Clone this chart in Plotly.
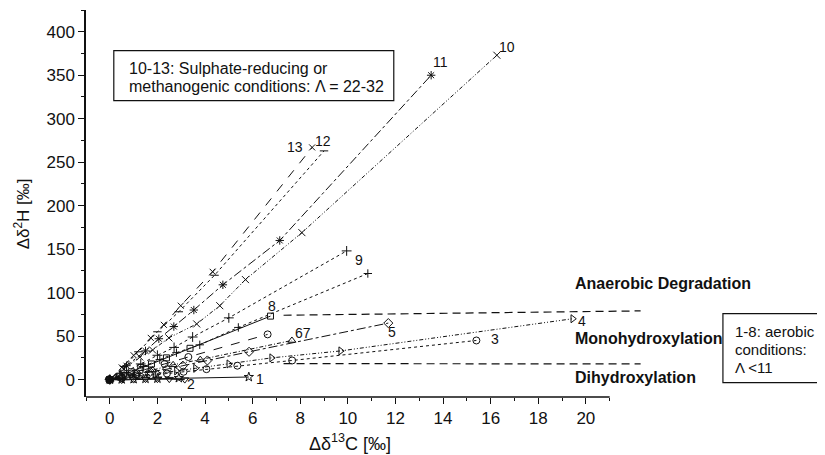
import plotly.graph_objects as go

# ---- data ----
x1 = [0, 0.5, 1.0, 1.5, 2.0, 2.9, 5.84]
y1 = [0, 0.3, 0.6, 1.0, 1.2, 1.8, 3]
x2 = [0, 0.5, 1.0, 1.5, 2.0, 2.5, 3.15]
y2 = [0, -0.5, 0, 0.5, 0.5, 0.5, 0]
x3 = [0, 0.5, 1.1, 1.7, 2.4, 3.1, 4.06, 5.36, 7.66, 15.4]
y3 = [0, 2, 4, 5, 7, 9, 12, 16, 22, 45]
x4 = [0, 0.6, 1.3, 2.0, 2.8, 3.6, 5.0, 6.8, 9.7, 19.45]
y4 = [0, 2, 5, 7, 10, 13, 18, 25, 33, 70]
x5 = [0, 0.5, 1.1, 1.7, 2.4, 3.07, 4.1, 5.85, 11.7]
y5 = [0, 3, 6, 9, 12, 16, 22, 32, 65]
x6 = [0, 0.4, 0.9, 1.5, 2.3, 3.3, 6.63]
y6 = [0, 3, 7, 12, 18, 26, 52]
x7 = [0, 0.5, 1.1, 1.8, 2.66, 3.8, 7.65]
y7 = [0, 3, 7, 11, 17, 23, 45]
x8 = [0, 0.4, 0.9, 1.3, 1.75, 2.38, 3.37, 6.75]
y8 = [0, 4, 9, 14, 18, 25, 36, 73]
x9a = [0, 0.6, 1.3, 2.0, 2.7, 3.48, 5.0, 9.95]
y9a = [0, 8, 18, 28, 37, 49, 71, 148]
x9b = [0, 0.7, 1.4, 2.1, 2.8, 3.78, 5.4, 10.84]
y9b = [0, 8, 15, 23, 31, 40, 60, 122]
x10 = [0, 0.6, 1.26, 1.8, 2.48, 3.65, 4.62, 5.7, 8.07, 16.26]
y10 = [0, 12, 26, 34, 48, 64, 85, 115, 169, 373]
x11 = [0, 0.7, 1.5, 2.06, 2.69, 3.53, 4.75, 7.14, 13.5]
y11 = [0, 16, 33, 47, 61, 80, 109, 160, 350]
x12 = [0, 0.6, 1.2, 2.0, 2.9, 4.4, 9.0]
y12 = [0, 15, 32, 55, 78, 120, 263]
x13 = [0, 0.5, 1.0, 1.72, 2.27, 2.98, 4.32, 8.5]
y13 = [0, 14, 28, 48, 63, 85, 124, 267]

bound_x = [7.3, 22.3]
upper_bound_y = [74, 79]
lower_bound_y = [18.4, 18]

series_labels = ["1", "2", "3", "4", "5", "67", "8", "9", "10", "11", "12", "13"]
label_x = [6.3, 3.43, 16.2, 19.85, 11.85, 8.1, 6.8, 10.45, 16.7, 13.9, 8.95, 7.8]
label_y = [1, -5, 47, 67, 55, 54, 85, 138, 382, 365, 274, 268]

region_labels = ["Anaerobic Degradation", "Monohydroxylation", "Dihydroxylation"]
region_y = [110, 47, 2.3]

top_box_lines = ["10-13: Sulphate-reducing or", "methanogenic conditions: Λ = 22-32"]
right_box_lines = ["1-8: aerobic", "conditions:", "Λ <11"]

xticks = [0, 2, 4, 6, 8, 10, 12, 14, 16, 18, 20]
yticks = [0, 50, 100, 150, 200, 250, 300, 350, 400]

FONT = "Liberation Sans, Arial, sans-serif"
BLK = "#111111"

series = [
    (x1, y1, "star-open", "solid", 7),
    (x2, y2, "triangle-down-open", "solid", 7),
    (x3, y3, "circle-open", "dot", 7),
    (x4, y4, "triangle-right-open", "4px,2px,1px,2px,1px,2px", 7),
    (x5, y5, "diamond-open", "dashdot", 7),
    (x6, y6, "circle-open", "dash", 7),
    (x7, y7, "triangle-up-open", "4px,2px,1px,2px", 7),
    (x8, y8, "square-open", "solid", 6),
    (x9a, y9a, "cross-thin", "dot", 7),
    (x9b, y9b, "cross-thin", "dot", 6),
    (x10, y10, "x-thin", "4px,2px,1px,2px,1px,2px", 7),
    (x11, y11, "asterisk", "dashdot", 7),
    (x12, y12, "line-ew", "dot", 6),
    (x13, y13, "x-thin", "dash", 6),
]

fig = go.Figure()
for xs, ys, sym, dash, size in series:
    fig.add_trace(go.Scatter(
        x=xs, y=ys, mode="lines+markers",
        line=dict(color=BLK, width=1, dash=dash),
        marker=dict(symbol=sym, size=size, color=BLK,
                    line=dict(color=BLK, width=1)),
        showlegend=False, cliponaxis=False))

for by in (upper_bound_y, lower_bound_y):
    fig.add_trace(go.Scatter(x=bound_x, y=by, mode="lines",
                             line=dict(color=BLK, width=1.2, dash="8px,5px"),
                             showlegend=False))

ann = []
for t, lx, ly in zip(series_labels, label_x, label_y):
    ann.append(dict(x=lx, y=ly, xref="x", yref="y", text=t, showarrow=False,
                    font=dict(family=FONT, size=14, color=BLK),
                    xanchor="center", yanchor="middle"))

for t, ly in zip(region_labels, region_y):
    ann.append(dict(x=19.45, y=ly, xref="x", yref="y", text="<b>%s</b>" % t,
                    showarrow=False, font=dict(family=FONT, size=16, color=BLK),
                    xanchor="left", yanchor="middle"))

# top text box (data coordinates)
for t, ly in zip(top_box_lines, [357.5, 336.8]):
    ann.append(dict(x=0.72, y=ly, xref="x", yref="y", text=t, showarrow=False,
                    font=dict(family=FONT, size=16, color=BLK),
                    xanchor="left", yanchor="middle"))
# right text box (paper coordinates, outside the plot area)
for t, py in zip(right_box_lines, [0.1689, 0.1224, 0.0759]):
    ann.append(dict(x=1.162, y=py, xref="paper", yref="paper", text=t,
                    showarrow=False, font=dict(family=FONT, size=15, color=BLK),
                    xanchor="left", yanchor="middle"))

ann.append(dict(x=0, y=190, xref="paper", yref="y", xshift=-64,
                text="Δδ<sup>2</sup>H [‰]", textangle=-90, showarrow=False,
                font=dict(family=FONT, size=17, color=BLK),
                xanchor="center", yanchor="middle"))
ann.append(dict(x=10.1, y=0, xref="x", yref="paper", yshift=-45,
                text="Δδ<sup>13</sup>C [‰]", showarrow=False,
                font=dict(family=FONT, size=18, color=BLK),
                xanchor="center", yanchor="middle"))

shapes = [
    dict(type="line", xref="x", yref="paper", x0=-1, x1=21, y0=0, y1=0,
         line=dict(color=BLK, width=1.5)),
    dict(type="rect", xref="x", yref="y", x0=0.168, x1=11.93, y0=320.7, y1=378.2,
         line=dict(color=BLK, width=1.2)),
    dict(type="rect", xref="paper", yref="paper", x0=1.1435, x1=1.6, y0=0.0372,
         y1=0.2154, line=dict(color=BLK, width=1.2)),
]

fig.update_layout(
    width=817, height=447,
    margin=dict(l=78, r=182, t=2, b=57.6),
    paper_bgcolor="white", plot_bgcolor="white",
    font=dict(family=FONT, size=17, color=BLK),
    annotations=ann,
    shapes=shapes,
    xaxis=dict(range=[-1, 22.4], showline=False, showgrid=False, zeroline=False,
               tickvals=xticks, ticks="outside", ticklen=6, tickwidth=1.2,
               tickcolor=BLK, tickfont=dict(size=17),
               minor=dict(tickvals=list(range(-1, 22)), ticks="outside", ticklen=3,
                          tickcolor=BLK, tickwidth=1)),
    yaxis=dict(range=[-20, 425], showline=True, linecolor=BLK, linewidth=1.5,
               showgrid=False, zeroline=False,
               tickvals=yticks, ticks="outside", ticklen=6, tickwidth=1.2,
               tickcolor=BLK, tickfont=dict(size=17),
               minor=dict(dtick=25, ticks="outside", ticklen=3, tickcolor=BLK,
                          tickwidth=1)),
)

fig.write_html("out.html")
